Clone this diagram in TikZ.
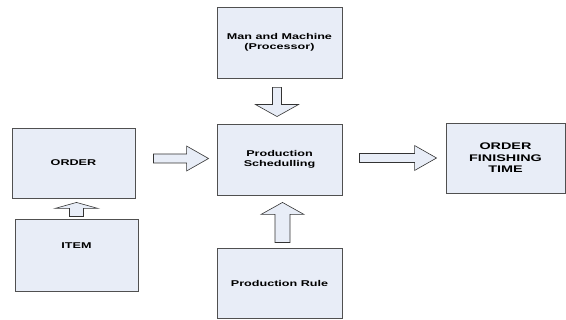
\documentclass[tikz,border=0pt]{standalone}
\usepackage{fontspec}
\newfontfamily\boxfont{Liberation Sans}[FakeStretch=1.5]
\usetikzlibrary{calc}
\definecolor{boxfill}{RGB}{232,237,247}
\definecolor{boxline}{RGB}{80,80,80}
\newcommand\varrow[5]{\draw[barrow] ($(#1)+(-#3,0)$) -- ($(#2)+(-#3,#5)$) -- ($(#2)+(-#4,#5)$) -- (#2) -- ($(#2)+(#4,#5)$) -- ($(#2)+(#3,#5)$) -- ($(#1)+(#3,0)$) -- cycle;}
\newcommand\harrow[5]{\draw[barrow] ($(#1)+(0,-#3)$) -- ($(#2)+(-#5,-#3)$) -- ($(#2)+(-#5,-#4)$) -- (#2) -- ($(#2)+(-#5,#4)$) -- ($(#2)+(-#5,#3)$) -- ($(#1)+(0,#3)$) -- cycle;}
\begin{document}
\begin{tikzpicture}[x=1pt,y=-1pt,
  blk/.style={draw=boxline, line width=0.9pt, fill=boxfill, inner sep=0pt, align=center,
    font=\boxfont\bfseries\fontsize{8.4}{9.6}\selectfont},
  bigtxt/.style={font=\boxfont\bfseries\fontsize{9.6}{11.5}\selectfont},
  lbl/.style={inner sep=0pt, align=center, font=\boxfont\bfseries\fontsize{8.4}{9.6}\selectfont},
  barrow/.style={draw=black!80, line width=0.6pt, fill=boxfill, line join=miter}]
\useasboundingbox (0,0) rectangle (566,320);
\node[blk, minimum width=125pt, minimum height=71pt] (man) at (279.5,42.5) {Man and Machine\\(Processor)};
\node[blk, minimum width=125pt, minimum height=71pt] (ps) at (279.5,159.5) {Production\\Schedulling};
\node[blk, minimum width=125pt, minimum height=70pt] (rule) at (279.5,283) {Production Rule};
\node[blk, minimum width=123pt, minimum height=70pt] (order) at (73.5,163) {ORDER};
\node[blk, minimum width=123pt, minimum height=72pt] (item) at (76.5,255) {};
\node[lbl] (itemtxt) at ($(item.center)+(0,-9.5)$) {ITEM};
\node[blk, bigtxt, minimum width=119pt, minimum height=70pt] (oft) at (505.5,158) {ORDER\\FINISHING\\TIME};
% arrow end points
\coordinate (a1s) at ($(man.south)+(-2.5,9)$);
\coordinate (a1e) at ($(ps.north)+(-2.5,-7)$);
\coordinate (a2s) at ($(rule.north)+(3,-5)$);
\coordinate (a2e) at ($(ps.south)+(3,7)$);
\coordinate (a3s) at ($(item.north)+(0,-2)$);
\coordinate (a3e) at ($(order.south)+(3,4)$);
\coordinate (a4s) at ($(order.east)+(18,-4.5)$);
\coordinate (a4e) at ($(ps.west)+(-8,-1)$);
\coordinate (a5s) at ($(ps.east)+(17,-1.5)$);
\coordinate (a5e) at ($(oft.west)+(-9,0)$);
\varrow{a1s}{a1e}{4.5}{21.5}{-12}
\varrow{a2s}{a2e}{7.5}{21.5}{12}
\varrow{a3s}{a3e}{7}{21.5}{6}
\harrow{a4s}{a4e}{4.5}{12.5}{22}
\harrow{a5s}{a5e}{4.5}{12.5}{22}
\end{tikzpicture}
\end{document}
